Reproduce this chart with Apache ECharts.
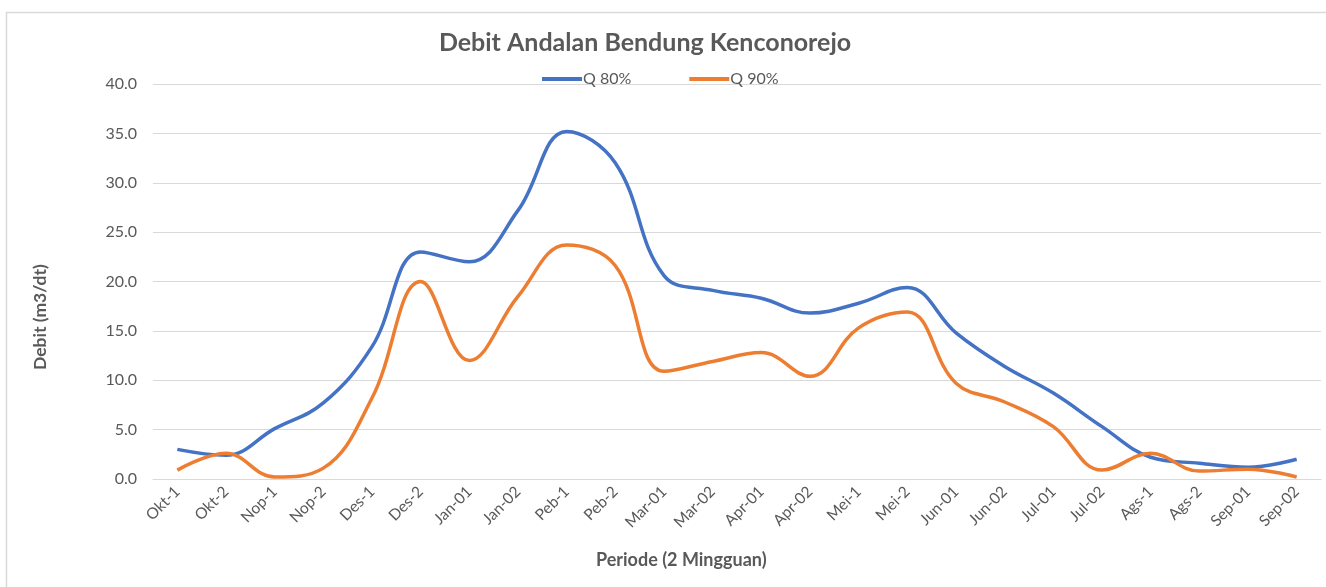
<!DOCTYPE html>
<html>
<head>
<meta charset="utf-8">
<script src="https://cdn.jsdelivr.net/npm/echarts@6/dist/echarts.min.js"></script>
<style>
  html, body { margin: 0; padding: 0; background: #fff; }
  #chart { width: 1326px; height: 587px; }
</style>
</head>
<body>
<div id="chart"></div>
<script>
// periode 2 mingguan
const periods = ['Okt-1', 'Okt-2', 'Nop-1', 'Nop-2', 'Des-1', 'Des-2', 'Jan-01', 'Jan-02',
  'Peb-1', 'Peb-2', 'Mar-01', 'Mar-02', 'Apr-01', 'Apr-02', 'Mei-1', 'Mei-2',
  'Jun-01', 'Jun-02', 'Jul-01', 'Jul-02', 'Ags-1', 'Ags-2', 'Sep-01', 'Sep-02']
const q80 = [3.0, 2.4, 5.1, 7.7, 13.4, 23.0, 22.0, 27.2, 35.2, 32.0, 20.6, 19.1,
  18.3, 16.8, 17.8, 19.4, 14.8, 11.4, 8.7, 5.3, 2.2, 1.6, 1.2, 2.0]
const q90 = [0.9, 2.6, 0.2, 1.1, 8.2, 20.0, 12.0, 18.5, 23.7, 21.6, 10.9, 11.9,
  12.8, 10.4, 15.3, 16.9, 9.7, 7.8, 5.3, 0.9, 2.6, 0.8, 1.0, 0.2]
const yTicks = [0, 5, 10, 15, 20, 25, 30, 35, 40]

const fontName = 'Lato'
const textGrey = '#595959'

const chart = echarts.init(document.getElementById('chart'))
const option = {
  animation: false,
  textStyle: { fontFamily: fontName },
  title: {
    text: 'Debit Andalan Bendung Kenconorejo',
    left: 640,
    top: 25,
    textAlign: 'center',
    textStyle: { fontSize: 25, fontWeight: 'bold', color: textGrey, fontFamily: fontName }
  },
  legend: {
    top: 66,
    left: 537,
    itemWidth: 40,
    itemHeight: 4,
    itemGap: 58,
    icon: 'rect',
    textStyle: { fontSize: 16, color: textGrey, padding: [0, 0, 0, -4] },
    data: ['Q 80%', 'Q 90%']
  },
  grid: { left: 153, right: 5, top: 84, bottom: 108 },
  xAxis: {
    type: 'category',
    data: periods,
    boundaryGap: true,
    axisLine: { lineStyle: { color: '#d9d9d9', width: 1 } },
    axisTick: { show: false },
    axisLabel: { rotate: 45, fontSize: 15.5, color: textGrey, margin: 10, interval: 0 }
  },
  yAxis: {
    type: 'value',
    min: yTicks[0],
    max: yTicks[yTicks.length - 1],
    interval: 5,
    axisLine: { show: false },
    axisTick: { show: false },
    splitLine: { lineStyle: { color: '#d9d9d9', width: 1 } },
    axisLabel: {
      fontSize: 16,
      color: textGrey,
      margin: 16,
      formatter: v => v.toFixed(1)
    }
  },
  graphic: [
    {
      type: 'rect',
      left: 4, top: 10,
      shape: { width: 1340, height: 600 },
      style: { fill: 'none', stroke: '#d9d9d9', lineWidth: 1.5 },
      silent: true
    },
    {
      type: 'text',
      left: 596, top: 551,
      style: { text: 'Periode (2 Mingguan)', fontSize: 18, fontWeight: 'bold', fill: textGrey, fontFamily: fontName }
    },
    {
      type: 'text',
      x: 31, y: 370,
      rotation: Math.PI / 2,
      style: { text: 'Debit (m3/dt)', fontSize: 17.5, fontWeight: 'bold', fill: textGrey, fontFamily: fontName }
    }
  ],
  series: [
    {
      name: 'Q 80%',
      type: 'line',
      data: q80,
      smooth: 0.4,
      symbol: 'none',
      lineStyle: { width: 3.5, color: '#4472C4' },
      itemStyle: { color: '#4472C4' }
    },
    {
      name: 'Q 90%',
      type: 'line',
      data: q90,
      smooth: 0.4,
      symbol: 'none',
      lineStyle: { width: 3.5, color: '#ED7D31' },
      itemStyle: { color: '#ED7D31' }
    }
  ]
}
chart.setOption(option)
</script>
</body>
</html>
